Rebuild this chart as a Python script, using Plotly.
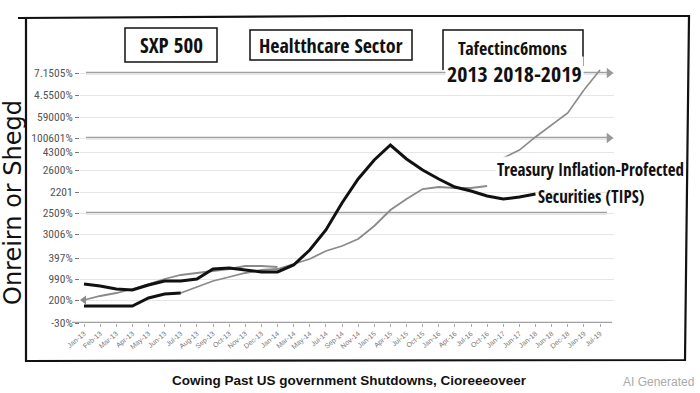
import plotly.graph_objects as go

# ---------------- data ----------------
x_labels = ["Jan-13", "Feb-13", "Mar-13", "Apr-13", "May-13", "Jun-13", "Jul-13", "Aug-13",
            "Sep-13", "Oct-13", "Nov-13", "Dec-13", "Jan-14", "Mar-14", "May-14", "Jul-14",
            "Sep-14", "Nov-14", "Jan-15", "Apr-15", "Jul-15", "Oct-15", "Jan-16", "Apr-16",
            "Jul-16", "Oct-16", "Jan-17", "Jun-17", "Jan-18", "Jun-18", "Dec-18", "Jan-19", "Jul-19"]

sxp_x = list(range(0, 29))
sxp_y = [39, 37, 34, 33, 38, 42, 42, 44, 54, 55, 53, 51, 51, 58, 73, 93, 120, 144, 163, 178,
         164, 153, 144, 136, 132, 127, 124, 126, 129]

health_x = [0, 1, 2, 3, 4, 5, 6]
health_y = [17, 17, 17, 17, 25, 29, 30]

healthgray_x = list(range(6, 26))
healthgray_y = [30, 36, 42, 46, 50, 53, 54, 59, 64, 72, 77, 84, 97, 113, 124, 134, 136, 135, 135, 137]

gray_a_x = list(range(0, 13))
gray_a_y = [23, 27, 30, 34, 39, 44, 48, 50, 52, 54, 57, 57, 56]

tips_x = [26, 27, 28, 29, 30, 31, 32]
tips_y = [165, 173, 186, 198, 210, 233, 253]

y_tickvals = [0, 23, 44, 65, 89, 110, 131, 153, 171, 185, 206, 228, 250]
y_ticktext = ["-30%", "200%", "990%", "397%", "3006%", "2509%", "2201", "2600%", "4300%",
              "100601%", "59000%", "4.5500%", "7.1505%"]
thick_grid = [250, 185, 110]
arrow_grid = [250, 185]

# ---------------- layout geometry ----------------
L, R, T, B = 80, 614, 60, 323
W, H = R - L, B - T
X0PIX, XSTEP = 84, 16.125          # pixel of category 0 and pixels per category
XMIN = (L - X0PIX) / XSTEP
XMAX = (R - X0PIX) / XSTEP


def px(x):
    return (x - L) / W


def py(y):
    return (B - y) / H


COND = "Open Sans Condensed, Roboto Condensed, sans-serif"
SANS = "Liberation Sans, Arial, sans-serif"

fig = go.Figure()

fig.add_trace(go.Scatter(x=gray_a_x, y=gray_a_y, mode="lines", line=dict(color="#8a8a8a", width=1.8),
                         name="Gray A", hoverinfo="skip"))
fig.add_trace(go.Scatter(x=[gray_a_x[0]], y=[gray_a_y[0]], mode="markers",
                         marker=dict(symbol="triangle-left", size=8, color="#8a8a8a"), hoverinfo="skip"))
fig.add_trace(go.Scatter(x=healthgray_x, y=healthgray_y, mode="lines", line=dict(color="#8a8a8a", width=1.8),
                         name="Healthcare (gray)", hoverinfo="skip"))
fig.add_trace(go.Scatter(x=tips_x, y=tips_y, mode="lines", line=dict(color="#8a8a8a", width=1.6),
                         name="TIPS", hoverinfo="skip"))
fig.add_trace(go.Scatter(x=health_x, y=health_y, mode="lines", line=dict(color="#111111", width=3),
                         name="Healthcare Sector", hoverinfo="skip"))
fig.add_trace(go.Scatter(x=sxp_x, y=sxp_y, mode="lines", line=dict(color="#111111", width=3),
                         name="SXP 500", hoverinfo="skip"))
fig.add_trace(go.Scatter(x=[(609 - X0PIX) / XSTEP] * len(arrow_grid), y=arrow_grid, mode="markers",
                         marker=dict(symbol="triangle-right", size=9, color="#999999"), hoverinfo="skip"))

shapes = []
for v in thick_grid:
    shapes.append(dict(type="line", xref="paper", yref="y", x0=px(86), x1=px(607), y0=v, y1=v,
                       line=dict(color="#a0a0a0", width=2.5), layer="between"))
shapes.append(dict(type="line", xref="paper", yref="y", x0=px(72), x1=px(612), y0=0, y1=0,
                   line=dict(color="#a0a0a0", width=2.5), layer="between"))
shapes.append(dict(type="path", xref="paper", yref="paper",
                   path=f"M {px(18)},{py(18)} L {px(350)},{py(16)} L {px(689)},{py(16)} "
                        f"L {px(685)},{py(360)} L {px(26)},{py(361)} L {px(26)},{py(18)}",
                   line=dict(color="#111111", width=2.2)))
shapes.append(dict(type="rect", xref="paper", yref="paper", x0=px(125), x1=px(217), y0=py(62), y1=py(28),
                   line=dict(color="#111111", width=1.5)))
shapes.append(dict(type="rect", xref="paper", yref="paper", x0=px(250), x1=px(412), y0=py(60), y1=py(30),
                   line=dict(color="#111111", width=1.5)))
shapes.append(dict(type="path", xref="paper", yref="paper",
                   path=f"M {px(443)},{py(70)} L {px(443)},{py(30)} L {px(583)},{py(30)} L {px(583)},{py(66)}",
                   line=dict(color="#111111", width=1.5)))


def ann(text, x, y, size, family=COND, weight="bold", color="#111111", **kw):
    d = dict(text=text, x=px(x), y=py(y), xref="paper", yref="paper", showarrow=False,
             xanchor="center", yanchor="middle",
             font=dict(family=family, size=size, color=color, weight=weight))
    d.update(kw)
    return d


annotations = [
    ann("SXP 500", 171, 45, 21),
    ann("Healtthcare Sector", 331, 45, 20),
    ann("Tafectinc6mons", 512, 48, 18),
    ann("2013 2018-2019", 514, 73, 22, bgcolor="white"),
    ann("Treasury Inflation-Profected", 590, 169, 17, bgcolor="rgba(255,255,255,0.9)"),
    ann("Securities (TIPS)", 591, 196, 17),
    ann("Onreirn or Shegd", 13, 203, 24, family="DejaVu Sans, sans-serif", weight="normal", textangle=-90),
    ann("Cowing Past US government Shutdowns, Cioreeeoveer", 349, 380, 13.5, family=SANS),
    ann("AI Generated", 658, 382, 12, family=SANS, weight="normal", color="#aaaaaa"),
]

fig.update_layout(
    width=700, height=393,
    margin=dict(l=L, r=700 - R, t=T, b=393 - B),
    paper_bgcolor="white", plot_bgcolor="white",
    showlegend=False,
    shapes=shapes,
    annotations=annotations,
    xaxis=dict(range=[XMIN, XMAX], tickmode="array", tickvals=list(range(len(x_labels))),
               ticktext=x_labels, tickangle=-40,
               tickfont=dict(size=7, color="#777777", family=SANS),
               showgrid=False, zeroline=False, showline=False, ticks="outside", ticklen=3,
               tickcolor="#aaaaaa"),
    yaxis=dict(range=[0, 263], tickmode="array", tickvals=y_tickvals, ticktext=y_ticktext,
               tickfont=dict(size=11.5, color="#555555", family="Roboto Condensed, sans-serif"),
               showgrid=True, gridcolor="#e6e6e6", gridwidth=1, zeroline=False, showline=False,
               ticks="outside", ticklen=4, tickcolor="#777777"),
)

fig.write_html("out.html", config={"displayModeBar": False},
               post_script="document.body.style.margin='0';")
